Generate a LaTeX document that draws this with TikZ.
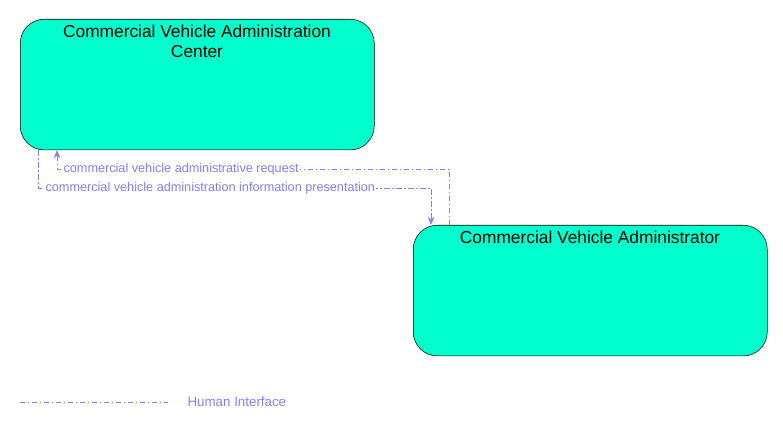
\documentclass[tikz,border=0pt]{standalone}
\usepackage{fontspec}
\setmainfont{Liberation Sans}
\usetikzlibrary{arrows.meta,positioning}
\tikzset{
  entity/.style={rectangle,rounded corners=18pt,draw=black,fill=cyan!100!green!100,fill={rgb,255:red,0;green,255;blue,204},minimum width=265.5pt,minimum height=98pt,anchor=north west},
  flow/.style={draw={rgb,255:red,128;green,128;blue,255},dash pattern=on 4pt off 2pt on 1pt off 2pt,line width=0.6pt},
  flowlabel/.style={text={rgb,255:red,128;green,128;blue,255},font=\fontsize{9.5}{11}\selectfont,inner sep=1pt,fill=white}
}
\begin{document}
\begin{tikzpicture}[x=0.75pt,y=-0.75pt]
\useasboundingbox (0,0) rectangle (783,431);
\node[entity] (cvac) at (20,19){};
\node[anchor=north,align=center,font=\fontsize{13}{15}\selectfont] at (197,20){Commercial Vehicle Administration\\Center};
\node[entity] (cva) at (413,225){};
\node[anchor=north,font=\fontsize{13}{15}\selectfont] at (590,226){Commercial Vehicle Administrator};
% flows
\coordinate (r1) at (449,169);
\coordinate (r2) at (57,169);
\draw[flow,-{Stealth[length=6pt,width=5pt]}] (cva.north west -| r1) -- (r1) -- (r2) -- (r2 |- cvac.south);
\node[flowlabel,anchor=west] at (62,169){commercial vehicle administrative request};
\coordinate (p1) at (38,188);
\coordinate (p2) at (431,188);
\draw[flow,-{Stealth[length=6pt,width=5pt]}] (cvac.south west -| p1) -- (p1) -- (p2) -- (p2 |- cva.north);
\node[flowlabel,anchor=west] at (44,188){commercial vehicle administration information presentation};
% legend
\coordinate (l1) at (20,402);
\coordinate (l2) at (168,402);
\draw[flow] (l1) -- (l2);
\node[flowlabel,anchor=west,font=\fontsize{10}{12}\selectfont] at (186,402){Human Interface};
\end{tikzpicture}
\end{document}
